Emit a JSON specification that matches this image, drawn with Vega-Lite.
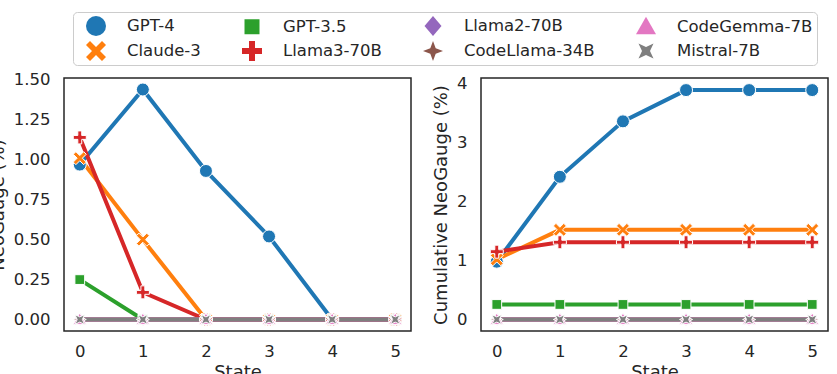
{
 "$schema": "https://vega.github.io/schema/vega-lite/v6.json",
 "padding": {"left": -12, "top": 11, "right": 0, "bottom": 0},
 "config": {
  "font": "DejaVu Sans",
  "view": {"stroke": "#262626", "strokeWidth": 1.5},
  "axis": {"grid": false, "domain": false, "ticks": false, "tickSize": 0, "labelFontSize": 16.5, "titleFontSize": 18, "labelColor": "#262626", "titleColor": "#262626", "titleFontWeight": "normal", "labelPadding": 14, "titlePadding": 6},
  "legend": {"symbolStrokeWidth": 0}
 },
 "data": {"values": [
  {"model": "GPT-4", "marker": "GPT-4", "state": 0, "v": 0.97, "c": 0.98},
  {"model": "GPT-4", "marker": "GPT-4", "state": 1, "v": 1.44, "c": 2.42},
  {"model": "GPT-4", "marker": "GPT-4", "state": 2, "v": 0.93, "c": 3.36},
  {"model": "GPT-4", "marker": "GPT-4", "state": 3, "v": 0.52, "c": 3.89},
  {"model": "GPT-4", "marker": "GPT-4", "state": 4, "v": 0, "c": 3.89},
  {"model": "GPT-4", "marker": "GPT-4", "state": 5, "v": 0, "c": 3.89},
  {"model": "Claude-3", "marker": "Claude-3", "state": 0, "v": 1.01, "c": 1.02},
  {"model": "Claude-3", "marker": "Claude-3", "state": 1, "v": 0.50, "c": 1.52},
  {"model": "Claude-3", "marker": "Claude-3", "state": 2, "v": 0, "c": 1.52},
  {"model": "Claude-3", "marker": "Claude-3", "state": 3, "v": 0, "c": 1.52},
  {"model": "Claude-3", "marker": "Claude-3", "state": 4, "v": 0, "c": 1.52},
  {"model": "Claude-3", "marker": "Claude-3", "state": 5, "v": 0, "c": 1.52},
  {"model": "GPT-3.5", "marker": "GPT-3.5", "state": 0, "v": 0.25, "c": 0.255},
  {"model": "GPT-3.5", "marker": "GPT-3.5", "state": 1, "v": 0, "c": 0.255},
  {"model": "GPT-3.5", "marker": "GPT-3.5", "state": 2, "v": 0, "c": 0.255},
  {"model": "GPT-3.5", "marker": "GPT-3.5", "state": 3, "v": 0, "c": 0.255},
  {"model": "GPT-3.5", "marker": "GPT-3.5", "state": 4, "v": 0, "c": 0.255},
  {"model": "GPT-3.5", "marker": "GPT-3.5", "state": 5, "v": 0, "c": 0.255},
  {"model": "Llama3-70B", "marker": "Llama3-70B", "state": 0, "v": 1.14, "c": 1.15},
  {"model": "Llama3-70B", "marker": "Llama3-70B", "state": 1, "v": 0.17, "c": 1.31},
  {"model": "Llama3-70B", "marker": "Llama3-70B", "state": 2, "v": 0, "c": 1.31},
  {"model": "Llama3-70B", "marker": "Llama3-70B", "state": 3, "v": 0, "c": 1.31},
  {"model": "Llama3-70B", "marker": "Llama3-70B", "state": 4, "v": 0, "c": 1.31},
  {"model": "Llama3-70B", "marker": "Llama3-70B", "state": 5, "v": 0, "c": 1.31},
  {"model": "Llama2-70B", "marker": "Llama2-70B", "state": 0, "v": 0, "c": 0},
  {"model": "Llama2-70B", "marker": "Llama2-70B", "state": 1, "v": 0, "c": 0},
  {"model": "Llama2-70B", "marker": "Llama2-70B", "state": 2, "v": 0, "c": 0},
  {"model": "Llama2-70B", "marker": "Llama2-70B", "state": 3, "v": 0, "c": 0},
  {"model": "Llama2-70B", "marker": "Llama2-70B", "state": 4, "v": 0, "c": 0},
  {"model": "Llama2-70B", "marker": "Llama2-70B", "state": 5, "v": 0, "c": 0},
  {"model": "CodeLlama-34B", "marker": "CodeLlama-34B", "state": 0, "v": 0, "c": 0},
  {"model": "CodeLlama-34B", "marker": "CodeLlama-34B", "state": 1, "v": 0, "c": 0},
  {"model": "CodeLlama-34B", "marker": "CodeLlama-34B", "state": 2, "v": 0, "c": 0},
  {"model": "CodeLlama-34B", "marker": "CodeLlama-34B", "state": 3, "v": 0, "c": 0},
  {"model": "CodeLlama-34B", "marker": "CodeLlama-34B", "state": 4, "v": 0, "c": 0},
  {"model": "CodeLlama-34B", "marker": "CodeLlama-34B", "state": 5, "v": 0, "c": 0},
  {"model": "CodeGemma-7B", "marker": "CodeGemma-7B", "state": 0, "v": 0, "c": 0},
  {"model": "CodeGemma-7B", "marker": "CodeGemma-7B", "state": 1, "v": 0, "c": 0},
  {"model": "CodeGemma-7B", "marker": "CodeGemma-7B", "state": 2, "v": 0, "c": 0},
  {"model": "CodeGemma-7B", "marker": "CodeGemma-7B", "state": 3, "v": 0, "c": 0},
  {"model": "CodeGemma-7B", "marker": "CodeGemma-7B", "state": 4, "v": 0, "c": 0},
  {"model": "CodeGemma-7B", "marker": "CodeGemma-7B", "state": 5, "v": 0, "c": 0},
  {"model": "Mistral-7B", "marker": "Mistral-7B", "state": 0, "v": 0, "c": 0},
  {"model": "Mistral-7B", "marker": "Mistral-7B", "state": 1, "v": 0, "c": 0},
  {"model": "Mistral-7B", "marker": "Mistral-7B", "state": 2, "v": 0, "c": 0},
  {"model": "Mistral-7B", "marker": "Mistral-7B", "state": 3, "v": 0, "c": 0},
  {"model": "Mistral-7B", "marker": "Mistral-7B", "state": 4, "v": 0, "c": 0},
  {"model": "Mistral-7B", "marker": "Mistral-7B", "state": 5, "v": 0, "c": 0}
 ]},
 "spacing": 19,
 "resolve": {"scale": {"color": "shared", "shape": "shared"}, "legend": {"color": "shared", "shape": "shared"}},
 "hconcat": [
  {
   "width": 347, "height": 253,
   "layer": [
    {
     "mark": {"type": "line", "strokeWidth": 4},
     "encoding": {
      "x": {"field": "state", "type": "quantitative", "scale": {"domain": [-0.25, 5.25], "nice": false, "zero": false}, "axis": {"values": [0,1,2,3,4,5], "format": "d", "title": "State", "labelPadding": 12, "titlePadding": 4}},
      "y": {"field": "v", "type": "quantitative", "scale": {"domain": [-0.072, 1.512], "nice": false, "zero": false}, "axis": {"values": [0, 0.25, 0.5, 0.75, 1, 1.25, 1.5], "format": ".2f", "title": "NeoGauge (%)"}},
      "color": {"field": "model", "type": "nominal",
       "scale": {"domain": ["GPT-4","GPT-3.5","Llama2-70B","CodeGemma-7B","Claude-3","Llama3-70B","CodeLlama-34B","Mistral-7B"], "range": ["#1f77b4","#2ca02c","#9467bd","#e377c2","#ff7f0e","#d62728","#8c564b","#7f7f7f"]}}
     }
    },
    {
     "mark": {"type": "point", "filled": true, "size": 169, "stroke": "white", "strokeWidth": 1, "opacity": 1},
     "encoding": {
      "x": {"field": "state", "type": "quantitative"},
      "y": {"field": "v", "type": "quantitative"},
      "color": {"field": "model", "type": "nominal",
       "legend": {"title": null, "orient": "none", "legendX": 9, "legendY": -66, "direction": "horizontal", "columns": 4, "columnPadding": 32, "rowPadding": 5, "padding": 4, "strokeColor": "#cccccc", "fillColor": "white", "cornerRadius": 4, "symbolSize": 400, "symbolOffset": 9, "labelOffset": 21, "labelFontSize": 16.5, "labelColor": "#262626",
        "encode": {"symbols": {
         "opacity": {"value": 1},
         "strokeWidth": {"value": 0},
         "shape": {"condition": [
          {"test": "datum.value === 'GPT-4'", "value": "M-1.9,-0.2H-0.75V0.2H-1.9ZM0.75,-0.2H1.9V0.2H0.75ZM-0.6,0A0.6,0.6 0 1,0 0.6,0A0.6,0.6 0 1,0 -0.6,0Z"},
          {"test": "datum.value === 'Claude-3'", "value": "M-1.9,-0.2H-0.7V0.2H-1.9ZM0.7,-0.2H1.9V0.2H0.7ZM-0.6,-0.36L-0.36,-0.6L0,-0.24L0.36,-0.6L0.6,-0.36L0.24,0L0.6,0.36L0.36,0.6L0,0.24L-0.36,0.6L-0.6,0.36L-0.24,0Z"},
          {"test": "datum.value === 'GPT-3.5'", "value": "M-1.9,-0.2H-0.6V0.2H-1.9ZM0.6,-0.2H1.9V0.2H0.6ZM-0.45,-0.45H0.45V0.45H-0.45Z"},
          {"test": "datum.value === 'Llama3-70B'", "value": "M-1.9,-0.2H-0.7V0.2H-1.9ZM0.7,-0.2H1.9V0.2H0.7ZM-0.18,-0.6H0.18V-0.18H0.6V0.18H0.18V0.6H-0.18V0.18H-0.6V-0.18H-0.18Z"},
          {"test": "datum.value === 'Llama2-70B'", "value": "M-1.9,-0.2H-0.65V0.2H-1.9ZM0.65,-0.2H1.9V0.2H0.65ZM0,-0.6L0.52,0L0,0.6L-0.52,0Z"},
          {"test": "datum.value === 'CodeLlama-34B'", "value": "M-1.9,-0.2H-0.65V0.2H-1.9ZM0.65,-0.2H1.9V0.2H0.65ZM0,-0.6L0.16,-0.16L0.6,0L0.16,0.16L0,0.6L-0.16,0.16L-0.6,0L-0.16,-0.16Z"},
          {"test": "datum.value === 'CodeGemma-7B'", "value": "M-1.9,-0.2H-0.65V0.2H-1.9ZM0.65,-0.2H1.9V0.2H0.65ZM0,-0.6L0.6,0.45L-0.6,0.45Z"}
         ], "value": "M-1.9,-0.2H-0.55V0.2H-1.9ZM0.55,-0.2H1.9V0.2H0.55ZM-0.45,-0.45L0,-0.24L0.45,-0.45L0.24,0L0.45,0.45L0,0.24L-0.45,0.45L-0.24,0Z"}
        }}
       }},
      "shape": {"field": "marker", "type": "nominal", "legend": null,
       "scale": {"domain": ["GPT-4","GPT-3.5","Llama2-70B","CodeGemma-7B","Claude-3","Llama3-70B","CodeLlama-34B","Mistral-7B"], "range": ["circle", "M-0.75,-0.75H0.75V0.75H-0.75Z", "M0,-1L0.85,0L0,1L-0.85,0Z", "M0,-1L1,0.75L-1,0.75Z", "M-1,-0.6L-0.6,-1L0,-0.4L0.6,-1L1,-0.6L0.4,0L1,0.6L0.6,1L0,0.4L-0.6,1L-1,0.6L-0.4,0Z", "M-0.3,-1H0.3V-0.3H1V0.3H0.3V1H-0.3V0.3H-1V-0.3H-0.3Z", "M0,-1L0.27,-0.27L1,0L0.27,0.27L0,1L-0.27,0.27L-1,0L-0.27,-0.27Z", "M-0.75,-0.75L0,-0.4L0.75,-0.75L0.4,0L0.75,0.75L0,0.4L-0.75,0.75L-0.4,0Z"]}}
     }
    }
   ]
  },
  {
   "width": 347, "height": 253,
   "layer": [
    {
     "mark": {"type": "line", "strokeWidth": 4},
     "encoding": {
      "x": {"field": "state", "type": "quantitative", "scale": {"domain": [-0.25, 5.25], "nice": false, "zero": false}, "axis": {"values": [0,1,2,3,4,5], "format": "d", "title": "State", "labelPadding": 12, "titlePadding": 4}},
      "y": {"field": "c", "type": "quantitative", "scale": {"domain": [-0.195, 4.095], "nice": false, "zero": false}, "axis": {"values": [0,1,2,3,4], "format": "d", "title": "Cumulative NeoGauge (%)"}},
      "color": {"field": "model", "type": "nominal"}
     }
    },
    {
     "mark": {"type": "point", "filled": true, "size": 169, "stroke": "white", "strokeWidth": 1, "opacity": 1},
     "encoding": {
      "x": {"field": "state", "type": "quantitative"},
      "y": {"field": "c", "type": "quantitative"},
      "color": {"field": "model", "type": "nominal"},
      "shape": {"field": "marker", "type": "nominal", "legend": null}
     }
    }
   ]
  }
 ]
}
